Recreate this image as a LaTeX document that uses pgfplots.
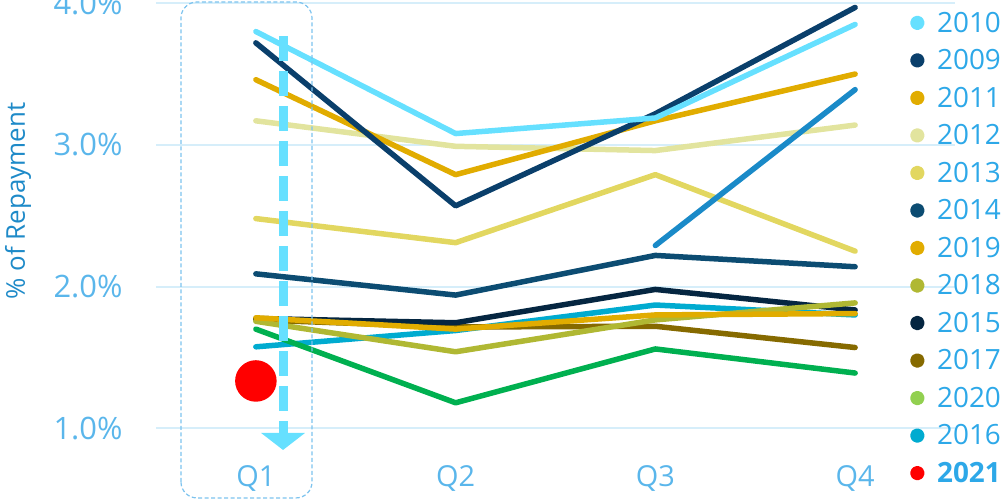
\documentclass[border=0pt]{standalone}
\usepackage{pgfplots}
\pgfplotsset{compat=1.18}
\usepackage{pgfplotstable}
\usepackage{fontspec}
\setmainfont{Open Sans}
\usetikzlibrary{arrows.meta}

\definecolor{c2010}{RGB}{102,224,255}
\definecolor{c2009}{RGB}{10,63,107}
\definecolor{c2011}{RGB}{225,172,0}
\definecolor{c2012}{RGB}{226,228,158}
\definecolor{c2013}{RGB}{226,215,96}
\definecolor{c2014}{RGB}{12,76,114}
\definecolor{c2019}{RGB}{225,172,0}
\definecolor{c2018}{RGB}{176,184,51}
\definecolor{c2015}{RGB}{5,38,65}
\definecolor{c2017}{RGB}{134,106,0}
\definecolor{c2020}{RGB}{146,208,80}
\definecolor{c2016}{RGB}{0,171,208}
\definecolor{cgreen}{RGB}{0,176,80}
\definecolor{cblue}{RGB}{26,138,200}
\definecolor{tickblue}{RGB}{90,182,235}
\definecolor{legblue}{RGB}{45,168,232}
\definecolor{labblue}{RGB}{30,138,200}
\definecolor{gridblue}{RGB}{214,238,250}
\definecolor{boxblue}{RGB}{125,195,238}

\pgfplotstableread{
q y2010 y2009 y2011 y2012 y2013 y2014 y2019 y2018 y2015 y2017 y2016 ygreen
0 3.80 3.72 3.46 3.17 2.48 2.09 1.78 1.755 1.775 1.765 1.575 1.70
1 3.08 2.57 2.79 2.99 2.31 1.94 1.70 1.54 1.745 1.715 1.69 1.18
2 3.19 3.22 3.17 2.96 2.79 2.22 1.80 1.765 1.98 1.72 1.87 1.56
3 3.85 3.97 3.50 3.14 2.25 2.14 1.81 1.885 1.835 1.57 1.80 1.39
}\data

\begin{document}
\begin{tikzpicture}
\begin{axis}[
  scale only axis, width=799bp, height=500bp,
  xmin=-0.5, xmax=3.5, ymin=0.494, ymax=4.0226,
  axis line style={draw=none}, major tick length=0pt,
  ytick={1,2,3,4},
  yticklabel={\pgfmathprintnumber[assume math mode=true,fixed,fixed zerofill,precision=1]{\tick}\%},
  ymajorgrids, grid style={gridblue, line width=2bp},
  xtick={0,1,2,3}, xticklabels={Q1,Q2,Q3,Q4},
  ticklabel style={font=\fontsize{29}{34}\selectfont, text=tickblue},
  xticklabel style={anchor=center, yshift=22bp},
  yticklabel style={anchor=east, xshift=-30bp, font=\fontsize{31}{36}\selectfont},
  ylabel={\% of Repayment},
  ylabel style={at={(axis description cs:-0.1727,0.598)}, anchor=center, font=\fontsize{26}{30}\selectfont, text=labblue},
  legend style={at={(axis description cs:0.9438,0.976)}, anchor=north west, draw=none, fill=none,
    inner sep=0pt, outer sep=0pt, row sep=15.8bp, column sep=12.5bp,
    font=\fontsize{28}{32}\selectfont, text=legblue, nodes={inner sep=0pt}},
  legend cell align=left,
  every axis plot/.append style={line width=5.5bp, line cap=round, line join=round},
]
\addplot[c2016, forget plot] table[x=q, y=y2016] {\data};
\addplot[c2017, forget plot] table[x=q, y=y2017] {\data};
\addplot[c2015, forget plot] table[x=q, y=y2015] {\data};
\addplot[c2018, forget plot] table[x=q, y=y2018] {\data};
\addplot[c2019, forget plot] table[x=q, y=y2019] {\data};
\addplot[cgreen, forget plot] table[x=q, y=ygreen] {\data};
\addplot[c2014, forget plot] table[x=q, y=y2014] {\data};
\addplot[c2013, forget plot] table[x=q, y=y2013] {\data};
\addplot[c2012, forget plot] table[x=q, y=y2012] {\data};
\addplot[c2011, forget plot] table[x=q, y=y2011] {\data};
\addplot[c2009, forget plot] table[x=q, y=y2009] {\data};
\addplot[c2010, forget plot] table[x=q, y=y2010] {\data};
\addplot[cblue, forget plot] coordinates {(2,2.29) (3,3.39)};
\addplot[red, only marks, mark=*, mark size=18bp, forget plot] coordinates {(0,1.334)};

\addlegendimage{legend image code/.code={\fill[c2010] (0bp,0bp) circle (4.5bp);}}
\addlegendimage{legend image code/.code={\fill[c2009] (0bp,0bp) circle (4.5bp);}}
\addlegendimage{legend image code/.code={\fill[c2011] (0bp,0bp) circle (4.5bp);}}
\addlegendimage{legend image code/.code={\fill[c2012] (0bp,0bp) circle (4.5bp);}}
\addlegendimage{legend image code/.code={\fill[c2013] (0bp,0bp) circle (4.5bp);}}
\addlegendimage{legend image code/.code={\fill[c2014] (0bp,0bp) circle (4.5bp);}}
\addlegendimage{legend image code/.code={\fill[c2019] (0bp,0bp) circle (4.5bp);}}
\addlegendimage{legend image code/.code={\fill[c2018] (0bp,0bp) circle (4.5bp);}}
\addlegendimage{legend image code/.code={\fill[c2015] (0bp,0bp) circle (4.5bp);}}
\addlegendimage{legend image code/.code={\fill[c2017] (0bp,0bp) circle (4.5bp);}}
\addlegendimage{legend image code/.code={\fill[c2020] (0bp,0bp) circle (4.5bp);}}
\addlegendimage{legend image code/.code={\fill[c2016] (0bp,0bp) circle (4.5bp);}}
\addlegendimage{legend image code/.code={\fill[red] (0bp,0bp) circle (4.5bp);}}
\legend{2010,2009,2011,2012,2013,2014,2019,2018,2015,2017,2020,2016,\textbf{2021}}

\draw[boxblue, line width=1.2bp, dash pattern=on 4bp off 2.5bp, rounded corners=16bp]
  (axis cs:-0.375,0.5085) rectangle (axis cs:0.281,4.0085);
\draw[c2010, line width=9bp, dash pattern=on 25bp off 10bp, -{Triangle[width=43bp,length=17bp]}]
  (axis cs:0.136,3.769) -- (axis cs:0.136,0.847);
\end{axis}
\pgfresetboundingbox
\path[use as bounding box] ([xshift=-156bp]current axis.south west) rectangle ([xshift=48bp]current axis.north east);
\end{tikzpicture}
\end{document}
